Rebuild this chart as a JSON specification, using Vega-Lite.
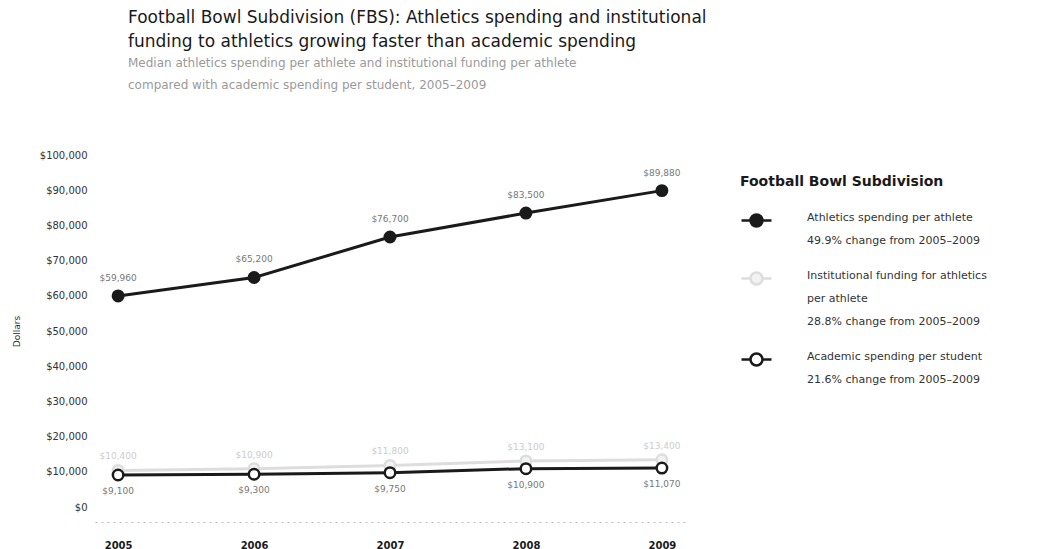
{
  "$schema": "https://vega.github.io/schema/vega-lite/v6.json",
  "width": 590,
  "height": 352,
  "autosize": {"type": "none"},
  "padding": {"left": 95, "top": 155, "right": 353, "bottom": 42},
  "background": "white",
  "config": {
    "font": "DejaVu Sans",
    "view": {"stroke": null},
    "style": {"guide-label": {"lineHeight": 23}}
  },
  "title": {
    "text": ["Football Bowl Subdivision (FBS): Athletics spending and institutional", "funding to athletics growing faster than academic spending"],
    "subtitle": ["Median athletics spending per athlete and institutional funding per athlete", "compared with academic spending per student, 2005–2009"],
    "anchor": "start",
    "frame": "group",
    "dx": 33,
    "fontSize": 17,
    "fontWeight": "normal",
    "lineHeight": 24,
    "color": "#1a1a1a",
    "subtitleFontSize": 12,
    "subtitleLineHeight": 22,
    "subtitleColor": "#9a9a9a",
    "subtitlePadding": 7,
    "offset": 58,
    "baseline": "top"
  },
  "data": {
    "values": [
      {"year": "2005", "series": "Athletics spending per athlete", "value": 59960},
      {"year": "2006", "series": "Athletics spending per athlete", "value": 65200},
      {"year": "2007", "series": "Athletics spending per athlete", "value": 76700},
      {"year": "2008", "series": "Athletics spending per athlete", "value": 83500},
      {"year": "2009", "series": "Athletics spending per athlete", "value": 89880},
      {"year": "2005", "series": "Institutional funding for athletics per athlete", "value": 10400},
      {"year": "2006", "series": "Institutional funding for athletics per athlete", "value": 10900},
      {"year": "2007", "series": "Institutional funding for athletics per athlete", "value": 11800},
      {"year": "2008", "series": "Institutional funding for athletics per athlete", "value": 13100},
      {"year": "2009", "series": "Institutional funding for athletics per athlete", "value": 13400},
      {"year": "2005", "series": "Academic spending per student", "value": 9100},
      {"year": "2006", "series": "Academic spending per student", "value": 9300},
      {"year": "2007", "series": "Academic spending per student", "value": 9750},
      {"year": "2008", "series": "Academic spending per student", "value": 10900},
      {"year": "2009", "series": "Academic spending per student", "value": 11070}
    ]
  },
  "encoding": {
    "x": {
      "field": "year", "type": "ordinal",
      "scale": {"type": "point", "padding": 0.17},
      "axis": {
        "title": null, "labelAngle": 0, "ticks": false,
        "labelFontWeight": "bold", "labelFontSize": 10, "labelColor": "#1a1a1a",
        "domainColor": "#bbbbbb", "domainDash": [2, 4], "offset": 15, "labelPadding": 18
      }
    },
    "y": {
      "field": "value", "type": "quantitative",
      "scale": {"domain": [0, 100000], "nice": false},
      "axis": {
        "title": "Dollars", "format": "$,.0f", "values": [0,10000,20000,30000,40000,50000,60000,70000,80000,90000,100000],
        "grid": false, "domain": false, "ticks": false,
        "labelFontSize": 10, "labelColor": "#333333", "labelPadding": 8,
        "titleFontSize": 9, "titleFontWeight": "normal", "titleColor": "#333333", "titlePadding": 18
      }
    }
  },
  "layer": [
    {
      "mark": {"type": "line", "strokeWidth": 3},
      "encoding": {
        "stroke": {
          "field": "series", "type": "nominal",
          "scale": {
            "domain": ["Athletics spending per athlete", "Institutional funding for athletics per athlete", "Academic spending per student"],
            "range": ["#1a1a1a", "#dddddd", "#1a1a1a"]
          }
        }
      }
    },
    {
      "mark": {"type": "point", "size": 110, "strokeWidth": 2.5, "filled": false, "opacity": 1},
      "encoding": {
        "stroke": {
          "field": "series", "type": "nominal",
          "legend": {
            "orient": "none", "legendX": 645, "legendY": 20,
            "title": "Football Bowl Subdivision", "titleLimit": 400,
            "titleFontSize": 14, "titleFontWeight": "bold", "titleColor": "#1a1a1a", "titlePadding": 15,
            "symbolType": "M-1,0H-0.4M0.4,0H1M-0.4,0A0.4,0.4,0,1,0,0.4,0A0.4,0.4,0,1,0,-0.4,0",
            "symbolSize": 900, "symbolStrokeWidth": 2.5, "symbolOpacity": 1,
            "labelFontSize": 11, "labelColor": "#333333", "labelBaseline": "alphabetic",
            "labelOffset": 34, "rowPadding": 16, "labelLimit": 300,
            "labelExpr": "datum.label == 'Athletics spending per athlete' ? ['Athletics spending per athlete', '49.9%  change from 2005–2009'] : datum.label == 'Academic spending per student' ? ['Academic spending per student', '21.6%  change from 2005–2009'] : ['Institutional funding for athletics', 'per athlete', '28.8%  change from 2005–2009']"
          }
        },
        "fill": {
          "field": "series", "type": "nominal",
          "scale": {
            "domain": ["Athletics spending per athlete", "Institutional funding for athletics per athlete", "Academic spending per student"],
            "range": ["#1a1a1a", "#f2f2f2", "#ffffff"]
          },
          "legend": {
            "orient": "none", "legendX": 645, "legendY": 20,
            "title": "Football Bowl Subdivision", "titleLimit": 400,
            "titleFontSize": 14, "titleFontWeight": "bold", "titleColor": "#1a1a1a", "titlePadding": 15,
            "symbolType": "M-1,0H-0.4M0.4,0H1M-0.4,0A0.4,0.4,0,1,0,0.4,0A0.4,0.4,0,1,0,-0.4,0",
            "symbolSize": 900, "symbolStrokeWidth": 2.5, "symbolOpacity": 1,
            "labelFontSize": 11, "labelColor": "#333333", "labelBaseline": "alphabetic",
            "labelOffset": 34, "rowPadding": 16, "labelLimit": 300,
            "labelExpr": "datum.label == 'Athletics spending per athlete' ? ['Athletics spending per athlete', '49.9%  change from 2005–2009'] : datum.label == 'Academic spending per student' ? ['Academic spending per student', '21.6%  change from 2005–2009'] : ['Institutional funding for athletics', 'per athlete', '28.8%  change from 2005–2009']"
          }
        }
      }
    },
    {
      "transform": [{"filter": "datum.series == 'Athletics spending per athlete'"}],
      "mark": {"type": "text", "dy": -18, "fontSize": 9, "color": "#777777"},
      "encoding": {"text": {"field": "value", "type": "quantitative", "format": "$,.0f"}}
    },
    {
      "transform": [{"filter": "datum.series == 'Institutional funding for athletics per athlete'"}],
      "mark": {"type": "text", "dy": -14, "fontSize": 9, "color": "#cccccc"},
      "encoding": {"text": {"field": "value", "type": "quantitative", "format": "$,.0f"}}
    },
    {
      "transform": [{"filter": "datum.series == 'Academic spending per student'"}],
      "mark": {"type": "text", "dy": 16, "fontSize": 9, "color": "#777777"},
      "encoding": {"text": {"field": "value", "type": "quantitative", "format": "$,.0f"}}
    }
  ]
}
